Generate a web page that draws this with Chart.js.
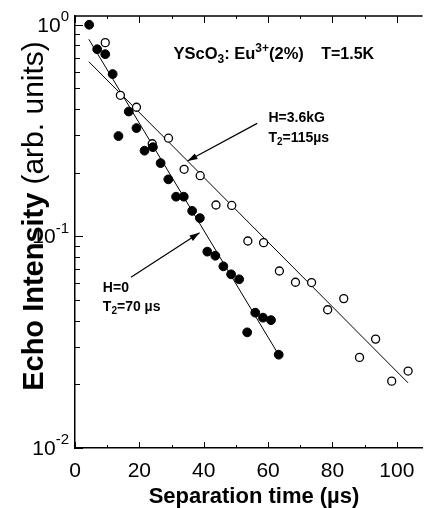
<!DOCTYPE html>
<html>
<head>
<meta charset="utf-8">
<script src="https://cdn.jsdelivr.net/npm/chart.js@4.4.1/dist/chart.umd.min.js"></script>
<style>
  html, body { margin: 0; padding: 0; background: #fff; }
</style>
</head>
<body>
<canvas id="grafica" width="428" height="508"></canvas>
<script>
//Datos

//H=0 (puntos llenos)
const tiempoH0 = [4.4, 6.9, 9.4, 11.7, 13.5, 16.7, 19.1, 21.6, 24.2, 26.6, 29.0, 31.4, 33.8, 36.4, 38.8, 41.1, 43.6, 46.1, 48.5, 51.0, 53.5, 56.0, 58.4, 60.9, 63.3];
const ecoH0 = [1.0, 0.766, 0.726, 0.585, 0.298, 0.389, 0.325, 0.254, 0.264, 0.222, 0.186, 0.154, 0.154, 0.132, 0.122, 0.0847, 0.081, 0.0722, 0.0662, 0.0627, 0.0352, 0.0436, 0.0413, 0.0402, 0.0276];

//H=3.6kG (puntos abiertos)
const tiempoH36 = [9.4, 14.1, 19.1, 24.0, 29.05, 33.9, 38.9, 43.8, 48.7, 53.7, 58.6, 63.5, 68.5, 73.5, 78.5, 83.5, 88.4, 93.4, 98.4, 103.5];
const ecoH36 = [0.823, 0.464, 0.4075, 0.274, 0.291, 0.2075, 0.1936, 0.1407, 0.14, 0.0951, 0.0934, 0.0686, 0.0607, 0.0605, 0.045, 0.0508, 0.0268, 0.0327, 0.0207, 0.0231];

//rectas de ajuste (extremos)
const ajusteH0_x = [4.3, 63.5];
const ajusteH0_y = [0.854, 0.0272];
const ajusteH36_x = [4.3, 103.5];
const ajusteH36_y = [0.669, 0.0203];

//ejes
const xMin = 0, xMax = 108, xPaso = 10;
const xEtiquetas = [0, 20, 40, 60, 80, 100];
const yMin = 0.01, yMax = 1.1;
const yMayores = [0.01, 0.1, 1];
const yEtiquetas = ['-2', '-1', '0'];

//flechas: [x inicio, y inicio, x punta, y punta]
const flechaH36 = [56.6, 0.342, 34.95, 0.227];
const flechaH0 = [17.4, 0.0641, 38.7, 0.104];

const fuente = '"Liberation Sans", Arial, sans-serif';

function aPuntos(xs, ys) {
  return xs.map((v, i) => ({ x: v, y: ys[i] }));
}

//escribe texto con subindices / superindices: partes = [[texto, 'n'|'sub'|'sup'], ...]
function textoRico(ctx, partes, x, y, tam, peso) {
  let cx = x;
  partes.forEach(([t, tipo]) => {
    const s = tipo === 'n' ? tam : Math.round(tam * 0.7);
    ctx.font = peso + ' ' + s + 'px ' + fuente;
    let dy = 0;
    if (tipo === 'sub') dy = tam * 0.3;
    if (tipo === 'sup') dy = -tam * 0.4;
    ctx.fillText(t, cx, y + dy);
    cx += ctx.measureText(t).width;
  });
  return cx - x;
}

function linea(ctx, x1, y1, x2, y2) {
  ctx.beginPath();
  ctx.moveTo(x1, y1);
  ctx.lineTo(x2, y2);
  ctx.stroke();
}

function flecha(ctx, x, y, f) {
  const x1 = x.getPixelForValue(f[0]), y1 = y.getPixelForValue(f[1]);
  const x2 = x.getPixelForValue(f[2]), y2 = y.getPixelForValue(f[3]);
  ctx.lineWidth = 1.2;
  linea(ctx, x1, y1, x2, y2);
  const ang = Math.atan2(y2 - y1, x2 - x1);
  const L = 10, W = 3.2;
  ctx.beginPath();
  ctx.moveTo(x2, y2);
  ctx.lineTo(x2 - L * Math.cos(ang) + W * Math.sin(ang), y2 - L * Math.sin(ang) - W * Math.cos(ang));
  ctx.lineTo(x2 - L * Math.cos(ang) - W * Math.sin(ang), y2 - L * Math.sin(ang) + W * Math.cos(ang));
  ctx.closePath();
  ctx.fill();
}

//marcas hacia dentro, linea superior, textos
const dibujo = {
  id: 'dibujo',
  afterDraw(chart) {
    const { ctx, chartArea: a, scales: { x, y } } = chart;
    ctx.save();
    ctx.strokeStyle = '#000';
    ctx.fillStyle = '#000';

    ctx.lineWidth = 1.5;
    linea(ctx, a.left - 0.75, a.top, a.right, a.top);

    //marcas eje x (abajo y arriba)
    ctx.lineWidth = 1;
    for (let v = xMin; v <= 100; v += xPaso) {
      const px = Math.round(x.getPixelForValue(v)) + 0.5;
      const mayor = xEtiquetas.includes(v);
      linea(ctx, px, a.bottom, px, a.bottom - (mayor ? 6 : 3));
      linea(ctx, px, a.top, px, a.top + (mayor ? 7 : 3));
    }

    //marcas eje y log
    yMayores.forEach((d, i) => {
      const py = Math.round(y.getPixelForValue(d)) + 0.5;
      linea(ctx, a.left, py, a.left + 8, py);
      if (i < yMayores.length - 1) {
        for (let m = 2; m <= 9; m++) {
          const pm = Math.round(y.getPixelForValue(d * m)) + 0.5;
          linea(ctx, a.left, pm, a.left + 5, pm);
        }
      }
    });

    //etiquetas eje y: 10^n
    ctx.textBaseline = 'middle';
    yMayores.forEach((d, i) => {
      const py = y.getPixelForValue(d);
      ctx.font = '15px ' + fuente;
      const wSup = ctx.measureText(yEtiquetas[i]).width;
      ctx.font = '21px ' + fuente;
      const wBase = ctx.measureText('10').width;
      const x0 = a.left - 6 - wSup - wBase;
      ctx.fillText('10', x0, py + 1);
      ctx.font = '15px ' + fuente;
      ctx.fillText(yEtiquetas[i], x0 + wBase, py - 8);
    });

    //titulo del eje y
    ctx.save();
    ctx.translate(43, 216);
    ctx.rotate(-Math.PI / 2);
    ctx.textBaseline = 'alphabetic';
    ctx.font = 'bold 29px ' + fuente;
    const w1 = ctx.measureText('Echo Intensity ').width;
    ctx.font = '30px ' + fuente;
    const w2 = ctx.measureText('(arb. units)').width;
    ctx.font = 'bold 29px ' + fuente;
    ctx.fillText('Echo Intensity ', -(w1 + w2) / 2, 0);
    ctx.font = '30px ' + fuente;
    ctx.fillText('(arb. units)', -(w1 + w2) / 2 + w1, 0);
    ctx.restore();

    //titulo del eje x
    ctx.textBaseline = 'alphabetic';
    ctx.textAlign = 'center';
    ctx.font = 'bold 22px ' + fuente;
    ctx.fillText('Separation time (\u00b5s)', 254, 503);
    ctx.textAlign = 'left';

    //textos dentro de la grafica
    ctx.textBaseline = 'middle';
    textoRico(ctx, [['YScO', 'n'], ['3', 'sub'], [': Eu', 'n'], ['3+', 'sup'], ['(2%)', 'n']],
      x.getPixelForValue(30.6), y.getPixelForValue(0.72), 16.5, 'bold');
    textoRico(ctx, [['T=1.5K', 'n']], x.getPixelForValue(76.5), y.getPixelForValue(0.72), 16, 'bold');
    textoRico(ctx, [['H=3.6kG', 'n']], x.getPixelForValue(60.1), y.getPixelForValue(0.3626), 14, 'bold');
    textoRico(ctx, [['T', 'n'], ['2', 'sub'], ['=115\u00b5s', 'n']], x.getPixelForValue(60.1), y.getPixelForValue(0.2908), 14, 'bold');
    textoRico(ctx, [['H=0', 'n']], x.getPixelForValue(8.65), y.getPixelForValue(0.0569), 14, 'bold');
    textoRico(ctx, [['T', 'n'], ['2', 'sub'], ['=70 \u00b5s', 'n']], x.getPixelForValue(8.65), y.getPixelForValue(0.0465), 14, 'bold');

    flecha(ctx, x, y, flechaH36);
    flecha(ctx, x, y, flechaH0);
    ctx.restore();
  }
};

const grafica = document.getElementById('grafica');

const datos_grafica = {
  datasets: [{
    label: 'H=0',
    data: aPuntos(tiempoH0, ecoH0),
    showLine: false,
    pointStyle: 'circle',
    pointRadius: 4.4,
    backgroundColor: '#000',
    borderColor: '#000',
    borderWidth: 1,
    order: 0
  }, {
    label: 'H=3.6kG',
    data: aPuntos(tiempoH36, ecoH36),
    showLine: false,
    pointStyle: 'circle',
    pointRadius: 4,
    backgroundColor: '#fff',
    borderColor: '#000',
    borderWidth: 1.3,
    order: 0
  }, {
    label: 'ajuste H=0',
    data: aPuntos(ajusteH0_x, ajusteH0_y),
    showLine: true,
    pointRadius: 0,
    borderColor: '#000',
    borderWidth: 1,
    order: 1
  }, {
    label: 'ajuste H=3.6kG',
    data: aPuntos(ajusteH36_x, ajusteH36_y),
    showLine: true,
    pointRadius: 0,
    borderColor: '#000',
    borderWidth: 1,
    order: 1
  }]
};

let grafica_OBJ = new Chart(grafica, {
  type: 'scatter',
  data: datos_grafica,
  options: {
    responsive: false,
    animation: false,
    layout: { padding: { top: 16, right: 0, left: 0, bottom: 0 } },
    plugins: {
      legend: { display: false },
      tooltip: { enabled: false }
    },
    scales: {
      x: {
        type: 'linear',
        min: xMin,
        max: xMax,
        grid: { display: false },
        border: { display: true, color: '#000', width: 1.5 },
        ticks: {
          stepSize: xPaso,
          includeBounds: false,
          autoSkip: false,
          maxRotation: 0,
          padding: 3,
          color: '#000',
          font: { family: fuente, size: 21 },
          callback: v => xEtiquetas.includes(v) ? String(v) : ''
        },
        afterFit: s => { s.height = 60; }
      },
      y: {
        type: 'logarithmic',
        min: yMin,
        max: yMax,
        grid: { display: false },
        border: { display: true, color: '#000', width: 1.5 },
        ticks: { display: false },
        afterFit: s => { s.width = 75; }
      }
    }
  },
  plugins: [dibujo]
});
</script>
</body>
</html>
